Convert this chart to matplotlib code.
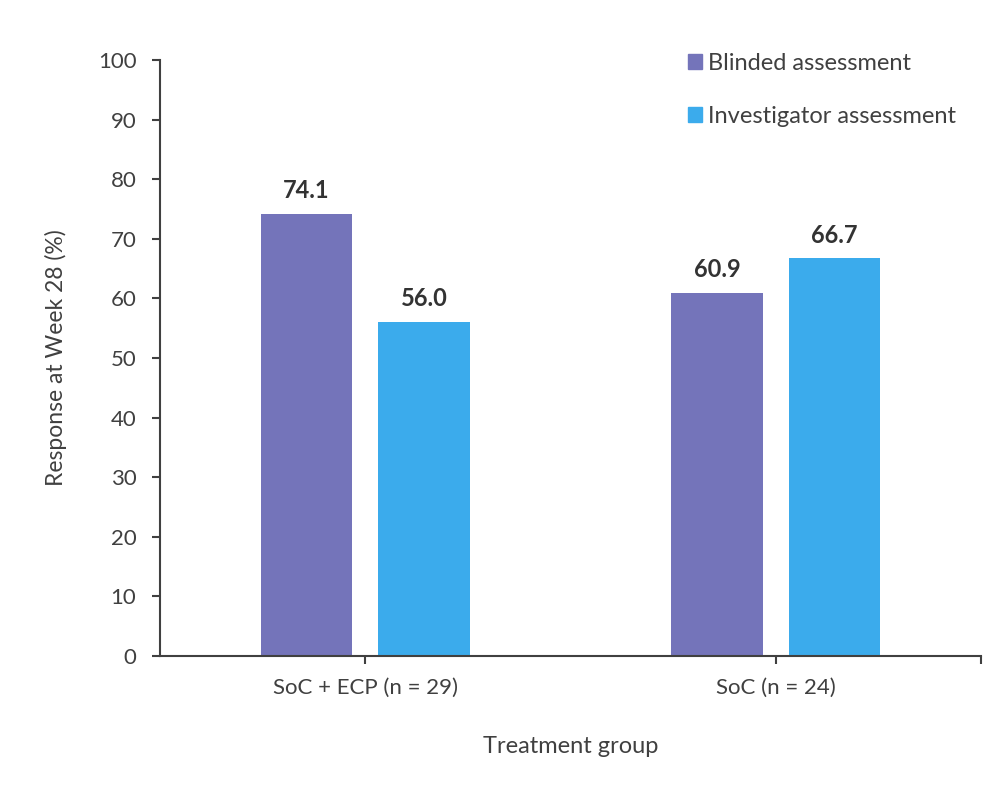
import matplotlib
matplotlib.use("Agg")
import matplotlib.pyplot as plt
import numpy as np
from matplotlib.patches import Patch

categories = ["SoC + ECP (n = 29)", "SoC (n = 24)"]
series_names = ["Blinded assessment", "Investigator assessment"]
blinded = [74.1, 60.9]
investigator = [56.0, 66.7]
colors = ["#7474BA", "#3BABEC"]
yticks = list(range(0, 101, 10))

plt.rcParams['font.family'] = ['Lato', 'DejaVu Sans']
text_c = "#404040"
fig = plt.figure(figsize=(10, 7.96), dpi=100)
ax = fig.add_axes([0.160, 1 - 656/796, 0.821, (656 - 60)/796])

x = np.arange(len(categories))
w = 0.222
off = 0.143
for vals, dx, c in [(blinded, -off, colors[0]), (investigator, off, colors[1])]:
    bars = ax.bar(x + dx, vals, width=w, color=c, zorder=2)
    for b, v in zip(bars, vals):
        ax.text(b.get_x() + b.get_width()/2, v + 2.0, f"{v:.1f}", ha="center", va="bottom",
                fontsize=17, fontweight="bold", color="#333333")

ax.set_xlim(-0.5, 1.5)
ax.set_ylim(0, 100)
ax.set_yticks(yticks)
ax.set_xticks(x)
ax.set_xticklabels(categories)
ax.set_xticks([1.5], minor=True)
for s in ["top", "right"]:
    ax.spines[s].set_visible(False)
for s in ["left", "bottom"]:
    ax.spines[s].set_color("#404040")
    ax.spines[s].set_linewidth(1.5)
ax.tick_params(axis="both", which="both", colors="#404040", width=1.5, length=6,
               labelsize=16, labelcolor=text_c)
ax.tick_params(axis="x", pad=10)
ax.tick_params(axis="y", pad=11)
ax.set_ylabel("Response at Week 28 (%)", fontsize=16.5, color=text_c, labelpad=22)
ax.set_xlabel("Treatment group", fontsize=17, color=text_c, labelpad=27)

handles = [Patch(color=c, label=n) for c, n in zip(colors, series_names)]
leg = ax.legend(handles=handles, loc="upper left", bbox_to_anchor=(0.617, 1.047), frameon=False,
                fontsize=17, handlelength=0.6, handleheight=0.6, handletextpad=0.25,
                labelspacing=1.35)
for t in leg.get_texts():
    t.set_color(text_c)

fig.savefig("out.png", dpi=100)
